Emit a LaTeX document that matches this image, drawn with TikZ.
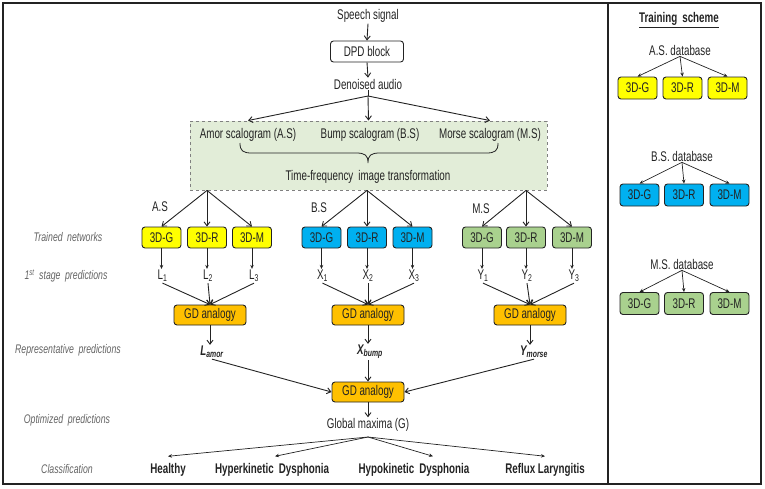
\documentclass[tikz,border=0pt]{standalone}
\usepackage{fontspec}
\setmainfont{Liberation Sans}[FakeStretch=0.7]
\usetikzlibrary{arrows.meta}
\definecolor{cyel}{RGB}{255,255,0}
\definecolor{cblu}{RGB}{0,176,240}
\definecolor{cgrn}{RGB}{169,209,142}
\definecolor{corg}{RGB}{255,192,0}
\definecolor{cpanel}{RGB}{226,237,216}
\definecolor{clab}{RGB}{100,100,100}
\definecolor{cink}{RGB}{35,35,35}
\begin{document}
\begin{tikzpicture}[x=1pt,y=-1pt,
  txt/.style={inner sep=1pt,text=cink,font=\fontsize{14}{16}\selectfont},
  lab/.style={inner sep=1pt,text=clab,font=\fontsize{12.5}{14}\selectfont\itshape},
  cls/.style={inner sep=1pt,text=cink,font=\fontsize{14}{16}\selectfont\bfseries},
  box/.style={draw=cink,line width=0.9pt,rounded corners=3pt,minimum width=39pt,minimum height=21pt,inner sep=0pt,text=cink,font=\fontsize{14}{16}\selectfont},
  gd/.style={box,fill=corg,minimum width=72pt,minimum height=20pt},
  arr/.style={draw=cink,line width=0.9pt,-{Straight Barb[length=4pt,width=6pt]}},
  sarr/.style={draw=cink,line width=0.7pt,-{Stealth[length=4pt,width=3.5pt]}},
  frame/.style={draw=cink,line width=1.6pt}]
\useasboundingbox (0,0) rectangle (765,488);
% frames
\draw[frame] (3,3) rectangle (608,484);
\draw[frame] (608,3) rectangle (761,484);

% top chain
\node[txt] (speech) at (368,16) {Speech signal};
\node[box,fill=white,minimum width=73pt] (dpd) at (367,51.5) {DPD block};
\node[txt] (den) at (368,84) {Denoised audio};
\coordinate (s1) at (368,96);
\draw[arr] (speech.south) -- (dpd.north);
\draw[arr] (dpd.south) -- (den.north);
\draw[draw=cink,line width=0.9pt] (den.south) -- (s1);

% transformation panel
\node[draw=gray,dashed,line width=0.9pt,fill=cpanel,minimum width=357pt,minimum height=69pt,inner sep=0pt] (tf) at (368.5,155.5) {};
\node[txt] (amor) at (248,135) {Amor scalogram (A.S)};
\node[txt] (bump) at (370,135) {Bump scalogram (B.S)};
\node[txt] (morse) at (490,135) {Morse scalogram (M.S)};
\node[txt] (tft) at (368,177) {Time-frequency\, image transformation};
\draw[draw=cink,line width=0.8pt] (240,143) .. controls (240,151) and (243,153) .. (252,153) -- (356,153) .. controls (365,153) and (368,155) .. (368,163)
  (368,163) .. controls (368,155) and (371,153) .. (380,153) -- (486,153) .. controls (495,153) and (498,151) .. (498,143);
\draw[arr] (s1) -- (tf.north -| amor);
\draw[arr] (s1) -- (tf.north);
\draw[arr] (s1) -- (tf.north -| morse);

% networks
\node[box,fill=cyel] (asG) at (161.5,237.5) {3D-G};
\node[box,fill=cyel] (asR) at (207,237.5) {3D-R};
\node[box,fill=cyel] (asM) at (252,237.5) {3D-M};
\node[box,fill=cblu] (bsG) at (321.5,237.5) {3D-G};
\node[box,fill=cblu] (bsR) at (367,237.5) {3D-R};
\node[box,fill=cblu] (bsM) at (412.5,237.5) {3D-M};
\node[box,fill=cgrn] (msG) at (482,237.5) {3D-G};
\node[box,fill=cgrn] (msR) at (526,237.5) {3D-R};
\node[box,fill=cgrn] (msM) at (572,237.5) {3D-M};
\node[txt] (lAS) at (160,207) {A.S};
\node[txt] (lBS) at (319,208) {B.S};
\node[txt] (lMS) at (481,209) {M.S};
\foreach \g in {as,bs,ms}{
  \foreach \b in {G,R,M}{
    \draw[arr] (tf.south -| \g R) -- (\g\b.north);
  }
}

% first stage predictions
\node[txt] (L1) at (162.5,276) {L\textsubscript{1}};
\node[txt] (L2) at (208,276) {L\textsubscript{2}};
\node[txt] (L3) at (254,276) {L\textsubscript{3}};
\node[txt] (X1) at (322.5,276) {X\textsubscript{1}};
\node[txt] (X2) at (368,276) {X\textsubscript{2}};
\node[txt] (X3) at (414,276) {X\textsubscript{3}};
\node[txt] (Y1) at (483,276) {Y\textsubscript{1}};
\node[txt] (Y2) at (527,276) {Y\textsubscript{2}};
\node[txt] (Y3) at (574,276) {Y\textsubscript{3}};
\draw[sarr] (asG.south) -- (asG.south |- L1.north);
\draw[sarr] (asR.south) -- (asR.south |- L2.north);
\draw[sarr] (asM.south) -- (asM.south |- L3.north);
\draw[sarr] (bsG.south) -- (bsG.south |- X1.north);
\draw[sarr] (bsR.south) -- (bsR.south |- X2.north);
\draw[sarr] (bsM.south) -- (bsM.south |- X3.north);
\draw[sarr] (msG.south) -- (msG.south |- Y1.north);
\draw[sarr] (msR.south) -- (msR.south |- Y2.north);
\draw[sarr] (msM.south) -- (msM.south |- Y3.north);

% GD analogies
\node[gd] (gdA) at (210,315) {GD analogy};
\node[gd] (gdB) at (368,315) {GD analogy};
\node[gd] (gdC) at (530,315) {GD analogy};
\foreach \p/\q in {L1/gdA,L2/gdA,L3/gdA,X1/gdB,X2/gdB,X3/gdB,Y1/gdC,Y2/gdC,Y3/gdC}{
  \draw[arr] (\p.south) -- (\q.north);
}

% representative
\node[txt,font=\fontsize{14}{16}\selectfont\bfseries\itshape] (rA) at (212,352) {L\textsubscript{amor}};
\node[txt,font=\fontsize{14}{16}\selectfont\bfseries\itshape] (rB) at (370,352) {X\textsubscript{bump}};
\node[txt,font=\fontsize{14}{16}\selectfont\bfseries\itshape] (rC) at (534,352) {Y\textsubscript{morse}};
\draw[arr] (gdA.south) -- (gdA.south |- rA.north);
\draw[arr] (gdB.south) -- (gdB.south |- rB.north);
\draw[arr] (gdC.south) -- (gdC.south |- rC.north);

\node[gd] (gdF) at (368,392) {GD analogy};
\draw[arr] (rA.south) -- (gdF.west);
\draw[arr] (rB.south -| gdF) -- (gdF.north);
\draw[arr] (rC.south) -- (gdF.east);

\node[txt] (glob) at (368,425) {Global maxima (G)};
\draw[arr] (gdF.south) -- (glob.north);
\coordinate (s2) at (368,437);

% classes
\node[cls] (healthy) at (168,470) {Healthy};
\node[cls] (hyper) at (272,470) {Hyperkinetic\, Dysphonia};
\node[cls] (hypo) at (414,470) {Hypokinetic\, Dysphonia};
\node[cls] (reflux) at (545,470) {Reflux Laryngitis};
\draw[sarr] (s2) -- ([yshift=6pt]healthy.north);
\draw[sarr] (s2) -- ([xshift=3pt,yshift=6pt]hyper.north);
\draw[sarr] (s2) -- ([xshift=19pt,yshift=6pt]hypo.north);
\draw[sarr] (s2) -- ([yshift=6pt]reflux.north);

% left labels
\node[lab] (t1) at (68,237) {Trained\, networks};
\node[lab] (t2) at (66,276) {1\textsuperscript{st}\, stage\, predictions};
\node[lab] (t3) at (68,350) {Representative\, predictions};
\node[lab] (t4) at (67,420) {Optimized\, predictions};
\node[lab] (t5) at (67,469) {Classification};

% training scheme
\node[cls] (title) at (679,20) {\underline{Training\, scheme}};
\node[txt] (adb) at (680,50) {A.S. database};
\node[box,fill=cyel,minimum height=22pt] (aG) at (637.5,88) {3D-G};
\node[box,fill=cyel,minimum height=22pt] (aR) at (682.5,88) {3D-R};
\node[box,fill=cyel,minimum height=22pt] (aM) at (727.5,88) {3D-M};
\node[txt] (bdb) at (682,156) {B.S. database};
\node[box,fill=cblu,minimum height=22pt] (bG) at (639.5,195) {3D-G};
\node[box,fill=cblu,minimum height=22pt] (bR) at (684,195) {3D-R};
\node[box,fill=cblu,minimum height=22pt] (bM) at (729.5,195) {3D-M};
\node[txt] (mdb) at (682,264) {M.S. database};
\node[box,fill=cgrn,minimum height=22pt] (mG) at (639.5,303.5) {3D-G};
\node[box,fill=cgrn,minimum height=22pt] (mR) at (684,303.5) {3D-R};
\node[box,fill=cgrn,minimum height=22pt] (mM) at (729.5,303.5) {3D-M};
\foreach \d/\g in {adb/a,bdb/b,mdb/m}{
  \foreach \b in {G,R,M}{
    \draw[sarr] (\d.south) -- (\g\b.north);
  }
}
\end{tikzpicture}
\end{document}
